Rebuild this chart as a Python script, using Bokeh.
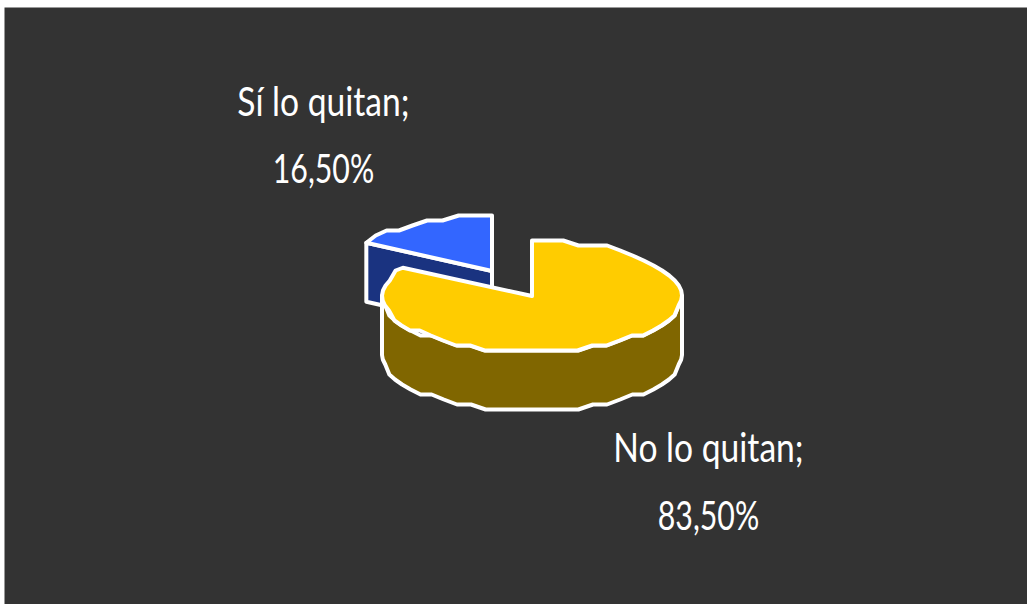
import numpy as np
from bokeh.document import Document
from bokeh.embed import file_html
from bokeh.models import CustomJS, Range1d
from bokeh.plotting import figure
from bokeh.resources import INLINE
from bokeh.core.properties import value

# Chart content
categories = ["No lo quitan", "Sí lo quitan"]
percent = [83.5, 16.5]
label_lines = [["No lo quitan;", "83,50%"], ["Sí lo quitan;", "16,50%"]]

# Page and pie geometry, in page pixels (y grows downward)
W, H = 1027, 604
PANEL = (4, 7)
CX, CY = 531.5, 295.5
RX, RY = 150.0, 55.5
BLUE_RX = 146.0
DEPTH = 59.0
EXPLODE = (-40.0, -25.0)
STEP_Y = 5.0
N_RIM = 60

BG = "#333333"
YELLOW, YELLOW_DARK = "#FFCC00", "#806600"
BLUE, BLUE_DARK = "#3366FF", "#1A3380"
EDGE = "white"
EDGE_W = 4
FONT = "Lato"
NARROW_WORDS = 0.82
NARROW_DIGITS = 0.74


def rim(start, end, cx, cy, rx=RX):
    """Outline of a tilted circle between two clockwise angles from 12 o'clock."""
    n = max(2, int(abs(end - start) / (2 * np.pi) * N_RIM) + 1)
    t = np.linspace(start, end, n)
    x = cx + rx * np.sin(t)
    y = cy - RY * np.cos(t)
    # the rim is drawn as coarse stepped segments
    inner = np.round(y[1:-1] / STEP_Y) * STEP_Y
    y = np.concatenate([y[:1], inner, y[-1:]])
    return x, y


fractions = np.array(percent) / sum(percent)
a_end = 2 * np.pi * fractions[0]

p = figure(width=W, height=H, output_backend="svg", toolbar_location=None,
           x_range=Range1d(0, W), y_range=Range1d(H, 0), min_border=0,
           background_fill_color="white", border_fill_color="white",
           outline_line_color=None)
p.axis.visible = False
p.grid.visible = False

p.quad(left=PANEL[0], right=W, top=PANEL[1], bottom=H, fill_color=BG, line_color=None)

# Pulled-out slice: cut face first, then its top
bx, by = CX + EXPLODE[0], CY + EXPLODE[1]
sx, sy = rim(a_end, 2 * np.pi, bx, by, BLUE_RX)
p.patch([sx[0], bx, bx, sx[0]], [sy[0], by, by + DEPTH, sy[0] + DEPTH],
        fill_color=BLUE_DARK, line_color=EDGE, line_width=EDGE_W, line_join="round")
p.patch(np.r_[bx, sx], np.r_[by, sy], fill_color=BLUE,
        line_color=EDGE, line_width=EDGE_W, line_join="round")

# Main slice: outer wall along the front half, then its top
wx, wy = rim(np.pi / 2, 3 * np.pi / 2, CX, CY)
p.patch(np.r_[wx, wx[::-1]], np.r_[wy, wy[::-1] + DEPTH], fill_color=YELLOW_DARK,
        line_color=EDGE, line_width=EDGE_W, line_join="round")
tx, ty = rim(0, a_end, CX, CY)
p.patch(np.r_[CX, tx], np.r_[CY, ty], fill_color=YELLOW,
        line_color=EDGE, line_width=EDGE_W, line_join="round")

# Data labels, two lines each
centers = [(708, 446, 514), (323, 100, 167)]
for (lx, y1, y2), lines in zip(centers, label_lines):
    p.text(x=[lx, lx], y=[y1, y2], text=lines, text_color="white",
           text_font=value(FONT), text_font_size="41px",
           text_align="center", text_baseline="alphabetic")

# The label face is a condensed one: narrow the SVG text about its own centre
narrow_js = """
function walk(root) {
  root.querySelectorAll('*').forEach((el) => {
    if (el.shadowRoot) walk(el.shadowRoot);
    if (el.tagName.toLowerCase() === 'text' && !el.dataset.narrowed) {
      const k = el.textContent.includes('%') ? digits : words;
      const box = el.getBBox();
      const x = box.x + box.width / 2;
      const old = el.getAttribute('transform') || '';
      el.setAttribute('transform', `${old} translate(${x},0) scale(${k},1) translate(${-x},0)`);
      el.dataset.narrowed = '1';
    }
  });
}
const run = () => walk(document);
run();
setTimeout(run, 50);
setTimeout(run, 300);
"""
doc = Document()
doc.add_root(p)
doc.js_on_event("document_ready", CustomJS(args=dict(words=NARROW_WORDS, digits=NARROW_DIGITS), code=narrow_js))

open("out.html", "w").write(file_html(p, INLINE))
